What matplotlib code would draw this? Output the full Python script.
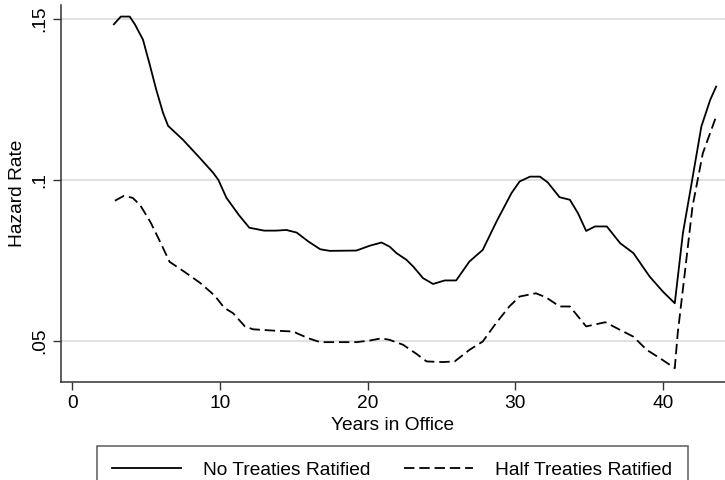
import matplotlib.pyplot as plt

plt.rcParams['font.family'] = ['Liberation Sans', 'DejaVu Sans']
plt.rcParams['lines.scale_dashes'] = False

# smoothed hazard estimates by tenure
years_none = [2.83, 3.3, 3.9, 4.25, 4.8, 5.26, 5.7, 6.16, 6.5, 7.5, 8.65, 9.55, 9.9,
              10.45, 11.3, 12.0, 13.0, 13.8, 14.5, 15.2, 16.0, 16.8, 17.45, 19.25,
              20.15, 20.95, 21.5, 21.96, 22.64, 23.1, 23.76, 24.44, 25.23, 26.0,
              26.9, 27.8, 28.73, 29.75, 30.3, 31.0, 31.67, 32.2, 33.0, 33.7, 34.25,
              34.8, 35.4, 36.2, 37.1, 38.0, 39.1, 40.0, 40.8, 41.35, 41.9, 42.6,
              43.2, 43.6]
hazard_none = [0.1484, 0.1508, 0.1508, 0.1484, 0.1436, 0.1358, 0.128, 0.1208, 0.1168,
               0.1125, 0.1068, 0.1022, 0.1, 0.0944, 0.089, 0.0851, 0.0842, 0.0842,
               0.0844, 0.0836, 0.0808, 0.0784, 0.0779, 0.078, 0.0795, 0.0805, 0.0792,
               0.0772, 0.0751, 0.073, 0.0694, 0.0676, 0.0687, 0.0687, 0.0746, 0.0782,
               0.087, 0.0959, 0.0995, 0.101, 0.101, 0.0992, 0.0946, 0.0938, 0.0896,
               0.0841, 0.0855, 0.0855, 0.0803, 0.0772, 0.0699, 0.0652, 0.0616,
               0.0834, 0.0979, 0.1166, 0.1249, 0.129]

years_half = [2.9, 3.5, 4.1, 4.6, 5.3, 5.9, 6.6, 7.6, 8.65, 9.65, 10.3, 10.9, 11.7,
              12.25, 13.6, 15.0, 15.2, 16.0, 16.8, 19.25, 20.15, 20.95, 21.5, 22.4,
              23.3, 24.0, 25.1, 25.9, 26.9, 27.8, 28.7, 29.6, 30.3, 31.4, 32.1, 33.0,
              33.7, 34.8, 36.1, 37.1, 38.0, 38.9, 39.8, 40.8, 41.0, 41.4, 42.0, 42.7,
              43.6]
hazard_half = [0.0935, 0.095, 0.0944, 0.0922, 0.0869, 0.0813, 0.0745, 0.0714, 0.068,
               0.064, 0.0602, 0.0585, 0.0544, 0.0535, 0.0531, 0.0528, 0.0523, 0.0507,
               0.0495, 0.0495, 0.05, 0.0507, 0.0502, 0.0487, 0.0459, 0.0435, 0.0433,
               0.0435, 0.0471, 0.0497, 0.0554, 0.0606, 0.0637, 0.0647, 0.0634,
               0.0606, 0.0606, 0.0544, 0.0557, 0.0533, 0.0512, 0.0471, 0.0445,
               0.0414, 0.0523, 0.0679, 0.0917, 0.1083, 0.1197]

x_ticks = [0, 10, 20, 30, 40]
y_ticks = [0.05, 0.1, 0.15]
y_ticklabels = ['.05', '.1', '.15']

FS = 13.8

fig = plt.figure(figsize=(7.25, 4.8), dpi=100)
ax = fig.add_axes([61 / 725, 98 / 480, 664 / 725, 377 / 480])

ax.plot(years_none, hazard_none, color='black', lw=1.3, label='No Treaties Ratified')
ax.plot(years_half, hazard_half, color='black', lw=1.3, dashes=(7.5, 3.5),
        label='Half Treaties Ratified')

ax.set_xlim(-0.75, 44.2)
ax.set_ylim(0.0371, 0.1544)
ax.set_xticks(x_ticks)
ax.set_yticks(y_ticks)
ax.set_yticklabels(y_ticklabels, rotation=90, va='center')
ax.grid(axis='y', color='#dcdcdc', lw=1.2)
ax.set_axisbelow(True)

for side in ['top', 'right']:
    ax.spines[side].set_visible(False)
for side in ['left', 'bottom']:
    ax.spines[side].set_color('#333333')
    ax.spines[side].set_linewidth(1.1)
ax.tick_params(direction='out', length=6, width=1, color='#333333',
               labelsize=FS, pad=3)

ax.set_xlabel('Years in Office', fontsize=FS, labelpad=4)
ax.set_ylabel('Hazard Rate', fontsize=FS, labelpad=4)

leg = fig.legend(loc='upper left', bbox_to_anchor=(97 / 725, 1 - 446 / 480),
                 ncol=2, fontsize=FS, frameon=True, fancybox=False,
                 handlelength=3.6, handletextpad=1.15, columnspacing=1.75,
                 borderpad=0.8, borderaxespad=0)
leg.get_frame().set_edgecolor('#333333')
leg.get_frame().set_linewidth(1.1)

fig.savefig('out.png', dpi=100)
